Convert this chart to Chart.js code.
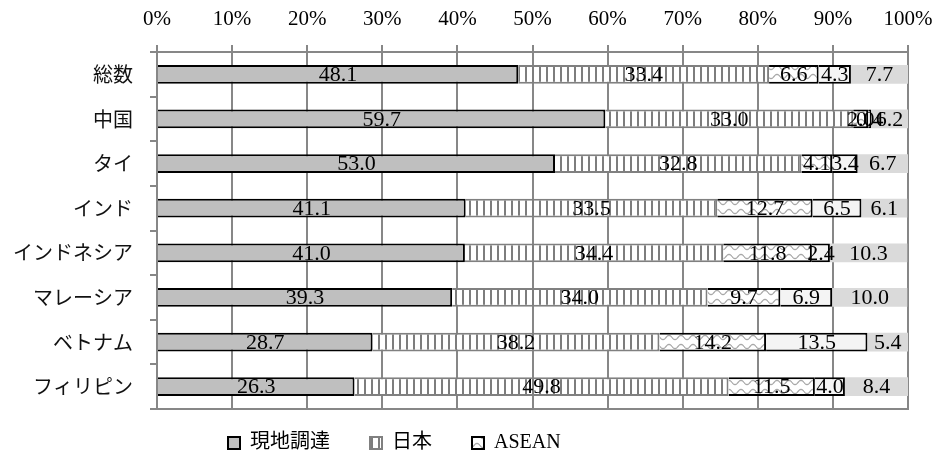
<!DOCTYPE html>
<html>
<head>
<meta charset="utf-8">
<script src="https://cdn.jsdelivr.net/npm/chart.js@4/dist/chart.umd.min.js"></script>
<style>
  html, body { margin: 0; padding: 0; background: #fff; }
</style>
</head>
<body>
<canvas id="c" width="937" height="450"></canvas>
<script>
// 調達先の内訳（%）
const categories = ['総数', '中国', 'タイ', 'インド', 'インドネシア', 'マレーシア', 'ベトナム', 'フィリピン'];
const seriesNames = ['現地調達', '日本', 'ASEAN', '中国', 'その他'];
const localValues  = [48.1, 59.7, 53.0, 41.1, 41.0, 39.3, 28.7, 26.3];
const japanValues  = [33.4, 33.0, 32.8, 33.5, 34.4, 34.0, 38.2, 49.8];
const aseanValues  = [6.6, 2.0, 4.1, 12.7, 11.8, 9.7, 14.2, 11.5];
const chinaValues  = [4.3, 0.4, 3.4, 6.5, 2.4, 6.9, 13.5, 4.0];
const otherValues  = [7.7, 6.2, 6.7, 6.1, 10.3, 10.0, 5.4, 8.4];
const tickLabels = ['0%', '10%', '20%', '30%', '40%', '50%', '60%', '70%', '80%', '90%', '100%'];

const GRID = '#878787';
const SERIF = "'Liberation Serif', 'Noto Sans CJK JP'";

// hatch fills
function stripeFill() {
  const t = document.createElement('canvas');
  t.width = 7; t.height = 7;
  const g = t.getContext('2d');
  g.fillStyle = '#fff'; g.fillRect(0, 0, 7, 7);
  g.fillStyle = '#7d7d7d'; g.fillRect(0, 0, 2, 7);
  return g.createPattern(t, 'repeat');
}
function waveFill() {
  const t = document.createElement('canvas');
  t.width = 12; t.height = 9;
  const g = t.getContext('2d');
  g.fillStyle = '#fff'; g.fillRect(0, 0, 12, 9);
  g.strokeStyle = '#a8a8a8'; g.lineWidth = 1.2;
  g.beginPath();
  for (let i = 0; i <= 12; i++) {
    const yy = 4.5 + 2.2 * Math.sin(i / 12 * 2 * Math.PI);
    if (i === 0) g.moveTo(i, yy); else g.lineTo(i, yy);
  }
  g.stroke();
  return g.createPattern(t, 'repeat');
}

const barShape = { barPercentage: 0.42, categoryPercentage: 1, borderSkipped: 'start' };

const datasets = [
  Object.assign({ label: seriesNames[0], data: localValues, backgroundColor: '#bfbfbf', borderColor: '#000', borderWidth: 2 }, barShape),
  Object.assign({ label: seriesNames[1], data: japanValues, backgroundColor: stripeFill(), borderColor: '#808080', borderWidth: 2 }, barShape),
  Object.assign({ label: seriesNames[2], data: aseanValues, backgroundColor: waveFill(), borderColor: '#000', borderWidth: 2 }, barShape),
  Object.assign({ label: seriesNames[3], data: chinaValues, backgroundColor: '#f4f4f4', borderColor: '#000', borderWidth: 2 }, barShape),
  Object.assign({ label: seriesNames[4], data: otherValues, backgroundColor: '#dadada', borderColor: '#dadada', borderWidth: 0 }, barShape)
];

// gray frame around the plot area
const plotFrame = {
  id: 'plotFrame',
  beforeDatasetsDraw(chart) {
    const { ctx, chartArea: a } = chart;
    ctx.save();
    ctx.strokeStyle = GRID;
    ctx.lineWidth = 2;
    ctx.strokeRect(a.left, a.top, a.right - a.left, a.bottom - a.top);
    ctx.restore();
  }
};

// value printed in the middle of each segment
const valueLabels = {
  id: 'valueLabels',
  afterDatasetsDraw(chart) {
    const { ctx, chartArea: a } = chart;
    ctx.save();
    ctx.font = '22px ' + SERIF;
    ctx.fillStyle = '#000';
    ctx.textAlign = 'center';
    ctx.textBaseline = 'middle';
    chart.data.datasets.forEach((ds, i) => {
      const meta = chart.getDatasetMeta(i);
      meta.data.forEach((bar, j) => {
        const v = ds.data[j];
        if (v == null) return;
        const p = bar.getProps(['x', 'y', 'base'], true);
        const l = Math.max(Math.min(p.x, p.base), a.left);
        const r = Math.min(Math.max(p.x, p.base), a.right);
        ctx.fillText(v.toFixed(1), (l + r) / 2, p.y + 1);
      });
    });
    ctx.restore();
  }
};

// legend row sits low and left of centre
const legendPlacement = {
  id: 'legendPlacement',
  afterLayout(chart) {
    const lg = chart.legend;
    if (!lg) return;
    lg.left = 188;
    lg.right = 800;
    lg.top = 393;
  }
};

new Chart(document.getElementById('c'), {
  type: 'bar',
  data: { labels: categories, datasets },
  plugins: [plotFrame, valueLabels, legendPlacement],
  options: {
    responsive: false,
    animation: false,
    indexAxis: 'y',
    layout: { padding: { left: 0, right: 29, top: 0, bottom: 0 } },
    scales: {
      x: {
        position: 'top',
        stacked: true,
        min: 0,
        max: 100,
        ticks: {
          stepSize: 10,
          autoSkip: false,
          maxRotation: 0,
          padding: 13,
          color: '#000',
          font: { family: SERIF, size: 21 },
          callback: (v, i) => tickLabels[i]
        },
        grid: { color: GRID, lineWidth: 2, tickLength: 7, drawTicks: true },
        border: { display: true, color: GRID, width: 2 },
        afterFit(s) { s.height = 52; s.paddingLeft = 0; s.paddingRight = 0; }
      },
      y: {
        stacked: true,
        ticks: {
          padding: 17,
          color: '#111',
          font: { family: "'Noto Sans CJK JP'", size: 20 }
        },
        grid: { offset: true, drawOnChartArea: false, drawTicks: true, tickLength: 7, color: GRID, lineWidth: 2 },
        border: { display: true, color: GRID, width: 2 },
        afterFit(s) { s.width = 157; }
      }
    },
    plugins: {
      tooltip: { enabled: false },
      legend: {
        position: 'bottom',
        align: 'start',
        maxHeight: 41,
        labels: {
          boxWidth: 12,
          boxHeight: 12,
          padding: 40,
          color: '#000',
          font: { family: SERIF, size: 20 },
          filter: (item) => item.datasetIndex < 3
        }
      }
    }
  }
});
</script>
</body>
</html>
